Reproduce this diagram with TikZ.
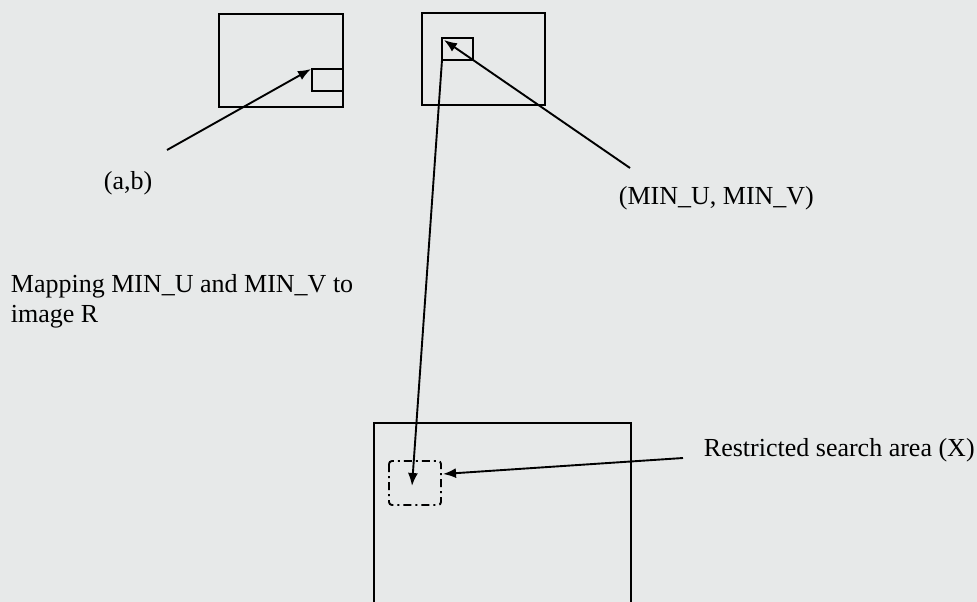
\documentclass[tikz,border=0pt]{standalone}
\usepackage{fontspec}
\setmainfont{Liberation Serif}
\usetikzlibrary{arrows.meta}
\definecolor{bgc}{RGB}{231,233,233}
\begin{document}
\begin{tikzpicture}[x=1pt,y=-1pt,line width=1.9pt,
  lbl/.style={font=\fontsize{26}{30}\selectfont, inner sep=0pt, anchor=base west, align=left},
  arr/.style={-{Latex[length=13pt,width=10pt]}},
  frm/.style={draw=black, line width=1.9pt},
  dashdot/.style={draw=black, line width=1.9pt, rounded corners=3pt,
    dash pattern=on 8pt off 4pt on 2pt off 4pt}]
\fill[bgc] (0,0) rectangle (977,602);
\useasboundingbox (0,0) rectangle (977,602);
% boxes
\draw[frm] (219,14) rectangle (343,107);
\draw[frm] (343,69) -- (312,69) -- (312,91) -- (343,91);
\draw[frm] (422,13) rectangle (545,105);
\draw[frm] (442,38) rectangle (473,60);
\begin{scope}
\clip (0,0) rectangle (977,602);
\draw[frm] (374,640) -- (374,423) -- (631,423) -- (631,640);
\end{scope}
\draw[dashdot] (389,461) rectangle (441,505);
% named points
\coordinate (abS) at (167,150);
\coordinate (tipA) at (311,69);
\coordinate (mS) at (630,168);
\coordinate (tipB) at (444,40);
\coordinate (vS) at (442,60);
\coordinate (tipC) at (412,486);
\coordinate (rS) at (683,458);
\coordinate (tipD) at (443,474);
% connectors
\draw[arr] (abS) -- (tipA);
\draw[arr] (mS) -- (tipB);
\draw[arr] (vS) -- (tipC);
\draw[arr] (rS) -- (tipD);
% labels
\node[lbl] (ab) at (103,189) {(a,b)};
\node[lbl] (mm) at (618,204) {(MIN\_U, MIN\_V)};
\node[lbl] (map) at (10,322) {Mapping MIN\_U and MIN\_V to\\image R};
\node[lbl] (rs) at (703,456) {Restricted search area (X)};
\end{tikzpicture}
\end{document}
